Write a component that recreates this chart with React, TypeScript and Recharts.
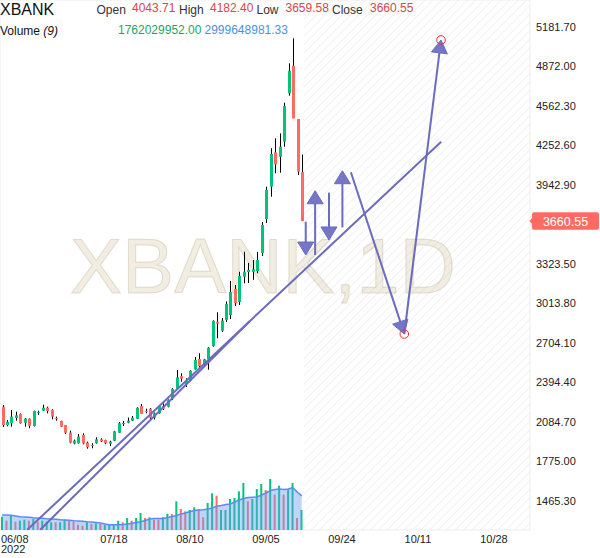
import React from "react";
import {
  ComposedChart,
  Bar,
  Area,
  Cell,
  XAxis,
  YAxis,
  CartesianGrid,
  ReferenceArea,
  ReferenceLine,
  ReferenceDot,
} from "recharts";

const GREEN = "#00c47a";
const RED = "#ff6b61";
const DRAW = "#6b6bbf";
const DRAW_FILL = "#7676c6";
const FONT = "'Liberation Sans', Arial, sans-serif";

const W = 600;
const H = 558;

// daily candles, index 0 = 06/08/2022
const OPEN = [
  2205, 2061, 2075, 2116, 2148, 2079, 2111, 2054, 2156, 2174, 2197, 2179, 2116, 2093, 2061, 2001, 1916,
  1918, 1983, 1923, 1905, 1918, 1949, 1944, 1915, 1939, 2001, 2069, 2079, 2095, 2111, 2210, 2171, 2189,
  2119, 2153, 2210, 2205, 2271, 2344, 2446, 2383, 2409, 2498, 2579, 2540, 2576, 2681, 2871, 2800, 2885,
  2924, 3128, 3026, 3224, 3261, 3263, 3269, 3410, 3676, 3930, 4199, 4165, 4283, 4662, 4878, 4460, 4043.71,
];
const HIGH = [
  2218, 2101, 2179, 2166, 2152, 2116, 2113, 2174, 2174, 2221, 2205, 2185, 2127, 2095, 2062, 2017, 1947,
  1991, 1996, 1931, 1918, 1965, 1957, 1946, 1938, 2016, 2085, 2093, 2119, 2132, 2200, 2226, 2189, 2195,
  2160, 2216, 2231, 2262, 2350, 2493, 2467, 2428, 2490, 2595, 2624, 2580, 2672, 2882, 2945, 2900, 3030,
  3190, 3159, 3263, 3420, 3332, 3355, 3418, 3653, 3930, 4231, 4309, 4348, 4588, 4897, 5093, 4460, 4182.4,
];
const LOW = [
  2046, 2051, 2048, 2095, 2072, 2048, 2036, 2050, 2140, 2172, 2153, 2106, 2095, 2046, 1991, 1918, 1910,
  1916, 1910, 1876, 1879, 1915, 1928, 1910, 1896, 1935, 2001, 2054, 2075, 2092, 2108, 2147, 2153, 2108,
  2105, 2150, 2179, 2200, 2257, 2344, 2401, 2359, 2405, 2495, 2506, 2520, 2495, 2675, 2741, 2790, 2870,
  2892, 2994, 3002, 3172, 3175, 3200, 3251, 3386, 3645, 3851, 4035, 4039, 4243, 4643, 4466, 4021, 3659.58,
];
const CLOSE = [
  2061, 2087, 2127, 2137, 2075, 2111, 2054, 2171, 2163, 2197, 2171, 2127, 2111, 2048, 2001, 1923, 1939,
  1970, 1916, 1887, 1899, 1949, 1934, 1918, 1931, 2012, 2075, 2077, 2095, 2119, 2197, 2148, 2167, 2119,
  2153, 2210, 2189, 2257, 2344, 2435, 2424, 2405, 2487, 2571, 2524, 2576, 2667, 2877, 2856, 2880, 3010,
  3104, 3016, 3230, 3263, 3277, 3282, 3355, 3629, 3904, 4186, 4105, 4243, 4562, 4839, 4466, 4047, 3660.55,
];

// volume in millions, its colour flag and the 9-day average as drawn
const VOLUME = [
  1170, 818, 1258, 730, 818, 906, 818, 968, 730, 818, 730, 678, 678, 678, 906, 792, 730, 466, 378, 678,
  528, 590, 528, 440, 440, 440, 818, 678, 1056, 818, 1056, 1496, 1056, 1118, 906, 906, 1118, 1408, 1408,
  2526, 1848, 1646, 1760, 1998, 1848, 1118, 2376, 3230, 3018, 1760, 1760, 2728, 2816, 3406, 4136, 2526,
  2728, 3608, 4048, 3520, 4488, 3106, 3898, 3106, 3608, 4136, 1056, 1762,
];
const VOLUME_UP = [
  1, 0, 1, 0, 1, 1, 0, 1, 0, 1, 1, 1, 0, 1, 1, 0, 0, 0, 0, 1, 0, 1, 0, 1, 1, 1, 1, 0, 1, 0, 1, 1, 0, 1,
  0, 0, 1, 1, 0, 1, 0, 0, 1, 1, 0, 0, 1, 1, 0, 1, 1, 1, 1, 1, 1, 0, 1, 1, 1, 0, 1, 0, 1, 0, 1, 1, 0, 1,
];
const VOLUME_MA = [
  1320, 1320, 1294, 1232, 1170, 1144, 1118, 1082, 1056, 1030, 994, 968, 942, 906, 880, 854, 818, 792,
  766, 730, 704, 660, 616, 528, 466, 466, 466, 484, 528, 590, 660, 730, 836, 968, 1012, 1012, 1012, 1100,
  1188, 1276, 1408, 1496, 1628, 1716, 1760, 1786, 1848, 1936, 2086, 2156, 2244, 2288, 2464, 2640, 2772,
  2860, 2878, 2904, 3080, 3256, 3476, 3564, 3608, 3564, 3608, 3740, 3344, 3000,
];

const DATE_TICKS = [0, 25, 42, 59, 76, 93, 110];
const DATE_LABELS = ["06/08", "07/18", "08/10", "09/05", "09/24", "10/11", "10/28"];
const PRICE_TICKS = [
  1465.3, 1775.0, 2084.7, 2394.4, 2704.1, 3013.8, 3323.5, 3633.2, 3942.9, 4252.6, 4562.3, 4872.0, 5181.7,
];

// drawings as [bar index, price] end points
const TREND_LINES = [
  [[5.6, 1240], [98.2, 4282]],
  [[8.5, 1240], [55.4, 2877]],
];
const MARKERS = [
  [89.95, 2775],
  [98.16, 5080],
];
const ARROWS = [
  [[67.9, 3655], [67.9, 3394]],
  [[70.0, 3394], [70.0, 3898]],
  [[73.1, 3883], [73.1, 3512]],
  [[76.1, 3611], [76.1, 4055]],
  [[78.0, 4043], MARKERS[0]],
  [MARKERS[0], MARKERS[1]],
];

const LAST_VOLUME = "1762029952.00";
const LAST_VOLUME_MA = "2999648981.33";

const X_DOMAIN: [number, number] = [-0.5, 118.07];
const PRICE_DOMAIN: [number, number] = [1238.2, 5393.4];
const VOL_DOMAIN: [number, number] = [0, 46640];

const rows = OPEN.map((o, i) => ({
  i,
  o,
  h: HIGH[i],
  l: LOW[i],
  c: CLOSE[i],
  range: [LOW[i], HIGH[i]],
  vol: VOLUME[i],
  volUp: VOLUME_UP[i],
  ma: VOLUME_MA[i],
}));

const last = rows.length - 1;

function Candle(props: any) {
  const { x, y, width, height, payload } = props;
  if (!payload || height == null) return null;
  const { o, h, l, c } = payload;
  const py = (v: number) => y + ((h - v) / (h - l || 1)) * height;
  const cx = Math.round(x + width / 2) + 0.5;
  const top = py(Math.max(o, c));
  const bot = py(Math.min(o, c));
  return (
    <g>
      <line x1={cx} x2={cx} y1={y} y2={y + height} stroke="#000" strokeWidth={1} />
      <rect x={cx - 1.5} y={top} width={3} height={Math.max(bot - top, 1)} fill={c >= o ? GREEN : RED} />
    </g>
  );
}

function Arrow(props: any) {
  const { x1, y1, x2, y2 } = props;
  const a = Math.atan2(y2 - y1, x2 - x1);
  const len = 13;
  const half = 8;
  const bx = x2 - len * Math.cos(a);
  const by = y2 - len * Math.sin(a);
  const nx = -Math.sin(a) * half;
  const ny = Math.cos(a) * half;
  return (
    <g>
      <line x1={x1} y1={y1} x2={bx} y2={by} stroke={DRAW} strokeWidth={2} />
      <polygon
        points={`${x2},${y2} ${bx + nx},${by + ny} ${bx - nx},${by - ny}`}
        fill={DRAW_FILL}
        stroke={DRAW}
        strokeWidth={1}
      />
    </g>
  );
}

function PriceTag(props: any) {
  const { cx, cy } = props;
  return (
    <g>
      <polygon points={`${cx - 0.5},${cy} ${cx + 2.5},${cy - 3.5} ${cx + 2.5},${cy + 3.5}`} fill={RED} />
      <rect x={cx + 2} y={cy - 8.7} width={67} height={17.4} rx={2} fill={RED} />
      <text x={cx + 35.5} y={cy + 4.5} fill="#fff" fontSize={12.5} textAnchor="middle">
        {CLOSE[last].toFixed(2)}
      </text>
    </g>
  );
}

function DateTick(props: any) {
  const { x, payload } = props;
  const k = DATE_TICKS.indexOf(payload.value);
  if (k < 0) return null;
  const first = k === 0;
  return (
    <g fill="#222" fontSize={11}>
      <text x={first ? 1 : x} y={542.5} textAnchor={first ? "start" : "middle"}>
        {DATE_LABELS[k]}
      </text>
      {first && (
        <text x={1} y={553} textAnchor="start">
          2022
        </text>
      )}
    </g>
  );
}

function axes(showTicks: boolean) {
  return [
    <XAxis
      key="x"
      dataKey="i"
      type="number"
      domain={X_DOMAIN}
      allowDataOverflow
      ticks={DATE_TICKS}
      interval={0}
      height={28}
      tickSize={0}
      axisLine={false}
      tickLine={false}
      tick={showTicks ? (p: any) => <DateTick {...p} /> : false}
    />,
    <YAxis
      key="p"
      orientation="right"
      width={70}
      domain={PRICE_DOMAIN}
      allowDataOverflow
      ticks={PRICE_TICKS}
      interval={0}
      tickSize={0}
      tickMargin={6}
      axisLine={false}
      tickLine={false}
      tick={showTicks ? { fill: "#222", fontSize: 11 } : false}
      tickFormatter={(v: number) => (Math.abs(v - 3633.2) < 0.01 ? "" : v.toFixed(2))}
    />,
    <YAxis key="v" yAxisId="vol" hide width={0} domain={VOL_DOMAIN} allowDataOverflow />,
  ];
}

const MARGIN = { top: 0, right: 0, bottom: 0, left: 0 };

export default function App() {
  return (
    <div
      style={{
        position: "absolute",
        left: 0,
        top: 0,
        width: W,
        height: H,
        background: "#fff",
        fontFamily: FONT,
        overflow: "hidden",
      }}
    >
      {/* grid, future area, volume */}
      <div style={{ position: "absolute", left: 0, top: 0 }}>
        <ComposedChart width={W} height={H} data={rows} margin={MARGIN}>
          <defs>
            <pattern id="hatch" width="6" height="6" patternUnits="userSpaceOnUse" patternTransform="rotate(45)">
              <line x1="0" y1="0" x2="0" y2="6" stroke="#ebebeb" strokeWidth="1.3" />
            </pattern>
          </defs>
          <CartesianGrid stroke="#ededed" />
          {axes(false)}
          <ReferenceArea x1={last + 0.5} x2={X_DOMAIN[1]} fill="url(#hatch)" fillOpacity={1} stroke="none" />
          <Bar yAxisId="vol" dataKey="vol" barSize={2} isAnimationActive={false}>
            {rows.map((r) => (
              <Cell key={r.i} fill={r.volUp ? GREEN : RED} />
            ))}
          </Bar>
        </ComposedChart>
      </div>

      {/* watermark */}
      <svg width={W} height={H} style={{ position: "absolute", left: 0, top: 0 }}>
        <text
          x={263}
          y={293}
          fontSize={78}
          textAnchor="middle"
          fill="rgba(200,185,145,0.26)"
          stroke="rgba(185,170,130,0.35)"
          strokeWidth={1}
        >
          XBANK,1D
        </text>
      </svg>

      {/* candles, volume average, drawings, axes */}
      <div style={{ position: "absolute", left: 0, top: 0 }}>
        <ComposedChart width={W} height={H} data={rows} margin={MARGIN}>
          {axes(true)}
          <Area
            yAxisId="vol"
            dataKey="ma"
            type="linear"
            stroke="#5b8def"
            strokeWidth={1.5}
            fill="#6f9ff2"
            fillOpacity={0.45}
            dot={false}
            activeDot={false}
            isAnimationActive={false}
          />
          <Bar dataKey="range" barSize={3} shape={(p: any) => <Candle {...p} />} isAnimationActive={false} />
          {TREND_LINES.map((s, k) => (
            <ReferenceLine
              key={`t${k}`}
              segment={[
                { x: s[0][0], y: s[0][1] },
                { x: s[1][0], y: s[1][1] },
              ]}
              stroke={DRAW}
              strokeWidth={2}
              ifOverflow="visible"
            />
          ))}
          {ARROWS.map((s, k) => (
            <ReferenceLine
              key={`a${k}`}
              segment={[
                { x: s[0][0], y: s[0][1] },
                { x: s[1][0], y: s[1][1] },
              ]}
              stroke={DRAW}
              ifOverflow="visible"
              shape={(p: any) => <Arrow {...p} />}
            />
          ))}
          {MARKERS.map((m, k) => (
            <ReferenceDot
              key={`m${k}`}
              x={m[0]}
              y={m[1]}
              r={4.3}
              fill="none"
              stroke="#ff2b2b"
              strokeWidth={1}
              ifOverflow="visible"
            />
          ))}
          <ReferenceDot
            x={X_DOMAIN[1]}
            y={CLOSE[last]}
            r={0}
            ifOverflow="visible"
            shape={(p: any) => <PriceTag {...p} />}
          />
        </ComposedChart>
      </div>

      {/* legend */}
      <svg width={W} height={40} style={{ position: "absolute", left: 0, top: 0 }}>
        <text x={0} y={15} fontSize={16} fill="#111">
          XBANK
        </text>
        <g fontSize={12}>
          <text x={96.5} y={14} fill="#333">Open</text>
          <text x={132} y={11.7} fill="#d9464b">{OPEN[last].toFixed(2)}</text>
          <text x={179} y={14} fill="#333">High</text>
          <text x={210} y={11.7} fill="#d9464b">{HIGH[last].toFixed(2)}</text>
          <text x={256.5} y={14} fill="#333">Low</text>
          <text x={285.5} y={11.7} fill="#d9464b">{LOW[last].toFixed(2)}</text>
          <text x={332} y={14} fill="#333">Close</text>
          <text x={370} y={11.7} fill="#d9464b">{CLOSE[last].toFixed(2)}</text>
          <text x={0} y={35} fill="#111">
            Volume <tspan fontStyle="italic">(9)</tspan>
          </text>
          <text x={118} y={34} fill="#1fa463">{LAST_VOLUME}</text>
          <text x={204.5} y={34} fill="#4a8fe7">{LAST_VOLUME_MA}</text>
        </g>
      </svg>
    </div>
  );
}
